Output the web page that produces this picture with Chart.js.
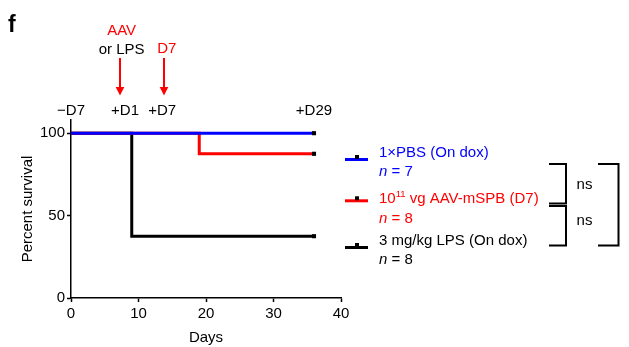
<!DOCTYPE html>
<html><head><meta charset="utf-8">
<script src="https://cdn.jsdelivr.net/npm/chart.js@4/dist/chart.umd.min.js"></script>
<style>html,body{margin:0;padding:0;background:#fff}#wrap{width:629px;height:347px;position:relative}canvas{display:block}</style>
</head><body><div id="wrap"><canvas id="c" width="629" height="347"></canvas></div>
<script>
// ---- data ----
const pbsDays = [0, 36];
const pbsSurvival = [100, 100];
const aavDays = [0, 19, 36];
const aavSurvival = [100, 87.5, 87.5];
const lpsDays = [0, 9, 36];
const lpsSurvival = [100, 37.5, 37.5];

const xTicks = [0, 10, 20, 30, 40];
const yTicks = [0, 50, 100];

const seriesNames = ['1×PBS (On dox)', '10|11| vg AAV-mSPB (D7)', '3 mg/kg LPS (On dox)'];
const seriesN = [7, 8, 8];
const seriesColors = ['#0000ff', '#ff0000', '#000000'];

const timelineLabels = ['\u2212D7', '+D1', '+D7', '+D29'];
const timelineDays = [0, 8, 13.5, 36];
const eventArrowDays = [7.3, 13.8];
const comparisonLabels = ['ns', 'ns'];

const FONT = '"Liberation Sans", Arial, Helvetica, sans-serif';

function pts(days, vals) { return days.map((d, i) => ({x: d, y: vals[i]})); }

const censorRadius = (ctx) => ctx.dataIndex === ctx.dataset.data.length - 1 ? 2.9 : 0;

function ds(label, days, vals, color) {
  return {
    label, data: pts(days, vals), borderColor: color, backgroundColor: color,
    borderWidth: 3, stepped: 'before', fill: false, tension: 0,
    borderJoinStyle: 'miter', borderCapStyle: 'butt',
    pointStyle: 'rect', pointRadius: censorRadius, pointHoverRadius: censorRadius,
    pointBackgroundColor: '#000', pointBorderColor: '#000', pointBorderWidth: 0
  };
}

const annotations = {
  id: 'annotations',
  afterDraw(chart) {
    const ctx = chart.ctx;
    const xs = chart.scales.x;
    ctx.save();
    ctx.textBaseline = 'alphabetic';
    // panel letter
    ctx.fillStyle = '#000';
    ctx.textAlign = 'left';
    ctx.font = 'bold 23px ' + FONT;
    ctx.fillText('f', 8, 32);

    // timeline labels
    ctx.font = '15px ' + FONT;
    ctx.textAlign = 'center';
    timelineLabels.forEach((t, i) => ctx.fillText(t, xs.getPixelForValue(timelineDays[i]), 114.5));

    // event labels
    ctx.fillStyle = '#ff0000';
    ctx.fillText('AAV', xs.getPixelForValue(7.5), 34.5);
    ctx.fillStyle = '#000';
    ctx.fillText('or LPS', xs.getPixelForValue(7.5), 53.5);
    ctx.fillStyle = '#ff0000';
    ctx.fillText('D7', xs.getPixelForValue(14.2), 52.5);

    // arrows
    ctx.strokeStyle = '#ff0000';
    ctx.lineWidth = 2;
    eventArrowDays.forEach(d => {
      const x = Math.round(xs.getPixelForValue(d));
      ctx.beginPath(); ctx.moveTo(x, 58); ctx.lineTo(x, 88); ctx.stroke();
      ctx.beginPath(); ctx.moveTo(x - 4.3, 87); ctx.lineTo(x + 4.3, 87); ctx.lineTo(x, 95.5); ctx.closePath(); ctx.fill();
    });

    // legend
    const lineY = [159.5, 200.8, 247.5];
    const nameY = [157.3, 203.3, 245.3];
    const nY = [175.5, 223.3, 264];
    const tx = 379;
    seriesNames.forEach((name, i) => {
      const c = seriesColors[i];
      ctx.strokeStyle = c; ctx.lineWidth = 3;
      ctx.beginPath(); ctx.moveTo(345, lineY[i]); ctx.lineTo(368, lineY[i]); ctx.stroke();
      ctx.fillStyle = '#000';
      ctx.fillRect(355, lineY[i] - 4.5, 4, 4);
      ctx.fillStyle = c; ctx.textAlign = 'left';
      const parts = name.split('|');
      let x = tx;
      parts.forEach((p, k) => {
        if (k === 1) {
          ctx.font = '9.5px ' + FONT;
          ctx.fillText(p, x, nameY[i] - 6.6);
        } else {
          ctx.font = '15px ' + FONT;
          ctx.fillText(p, x, nameY[i]);
        }
        x += ctx.measureText(p).width;
      });
      ctx.font = 'italic 15px ' + FONT;
      ctx.fillText('n', tx, nY[i]);
      const w = ctx.measureText('n').width;
      ctx.font = '15px ' + FONT;
      ctx.fillText(' = ' + seriesN[i], tx + w, nY[i]);
    });

    // brackets
    ctx.strokeStyle = '#000'; ctx.lineWidth = 2; ctx.lineJoin = 'miter';
    const br = (x1, x2, y1, y2) => { ctx.beginPath(); ctx.moveTo(x1, y1); ctx.lineTo(x2, y1); ctx.lineTo(x2, y2); ctx.lineTo(x1, y2); ctx.stroke(); };
    br(549, 566, 164, 203.5);
    br(549, 566, 206, 245.5);
    br(598, 618.5, 164, 245.5);
    ctx.fillStyle = '#000'; ctx.font = '15px ' + FONT; ctx.textAlign = 'center';
    ctx.fillText(comparisonLabels[0], 584.5, 188.5);
    ctx.fillText(comparisonLabels[1], 584.5, 225);
    ctx.restore();
  }
};

new Chart(document.getElementById('c'), {
  type: 'line',
  data: {
    datasets: [
      ds(seriesNames[0], pbsDays, pbsSurvival, seriesColors[0]),
      ds(seriesNames[1], aavDays, aavSurvival, seriesColors[1]),
      ds(seriesNames[2], lpsDays, lpsSurvival, seriesColors[2])
    ]
  },
  options: {
    responsive: false, animation: false, devicePixelRatio: 1,
    layout: {padding: {left: 0, top: 120, right: 288, bottom: 0}},
    plugins: {legend: {display: false}, tooltip: {enabled: false}},
    scales: {
      x: {
        type: 'linear', min: 0, max: 40,
        afterBuildTicks: s => { s.ticks = xTicks.map(v => ({value: v})); },
        afterFit: s => { s.height = 49; },
        grid: {display: true, drawOnChartArea: false, drawTicks: true, tickLength: 4, tickColor: '#000', tickWidth: 1.5},
        border: {display: true, color: '#000', width: 1.5},
        ticks: {color: '#000', font: {family: FONT, size: 15}, padding: 3, maxRotation: 0, autoSkip: false},
        title: {display: true, text: 'Days', color: '#000', font: {family: FONT, size: 15}, padding: {top: 0, bottom: 0}}
      },
      y: {
        type: 'linear', min: 0, max: 108,
        afterBuildTicks: s => { s.ticks = yTicks.map(v => ({value: v})); },
        afterFit: s => { s.width = 71; },
        grid: {display: true, drawOnChartArea: false, drawTicks: true, tickLength: 4, tickColor: '#000', tickWidth: 1.5},
        border: {display: true, color: '#000', width: 1.5},
        ticks: {color: '#000', font: {family: FONT, size: 15}, padding: 2, autoSkip: false},
        title: {display: true, text: 'Percent survival', color: '#000', font: {family: FONT, size: 15}, padding: {top: 19, bottom: 0}}
      }
    }
  },
  plugins: [annotations]
});
</script>
</body></html>
